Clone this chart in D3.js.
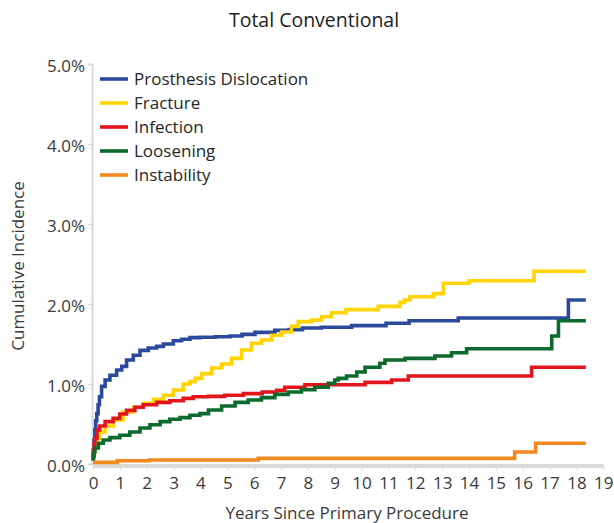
<!DOCTYPE html>
<html><head><meta charset="utf-8">
<script src="https://cdn.jsdelivr.net/npm/d3@7"></script>
<style>
html,body{margin:0;padding:0;background:#fff;}
svg{display:block;font-family:"Open Sans","Noto Sans",sans-serif;}
</style></head>
<body>
<svg id="chart" width="614" height="523"></svg>
<script>
// ---- data ----
const title = "Total Conventional";
const xTitle = "Years Since Primary Procedure";
const yTitle = "Cumulative Incidence";
const xTicks = d3.range(0, 20);
const yTicks = [0, 1, 2, 3, 4, 5];

const seriesNames = ["Prosthesis Dislocation", "Fracture", "Infection", "Loosening", "Instability"];
const seriesColors = ["#2b4a9c", "#ffd400", "#e3151c", "#0d6a2e", "#f28a1f"];

const dislocationYears = [0, 0.01, 0.04, 0.07, 0.1, 0.14, 0.19, 0.24, 0.32, 0.45, 0.63, 0.88, 1.07, 1.25, 1.5, 1.75, 2.06, 2.37, 2.62, 2.99, 3.3, 3.61, 3.98, 4.54, 5.1, 5.55, 6.03, 6.77, 7.3, 7.8, 8.5, 9.63, 10.91, 11.77, 13.6, 17.7, 18.35];
const dislocationPct   = [0.05, 0.13, 0.3, 0.43, 0.54, 0.63, 0.74, 0.84, 0.97, 1.05, 1.11, 1.175, 1.22, 1.30, 1.36, 1.42, 1.45, 1.47, 1.50, 1.54, 1.56, 1.58, 1.585, 1.59, 1.60, 1.62, 1.645, 1.67, 1.68, 1.70, 1.71, 1.73, 1.76, 1.79, 1.825, 2.05, 2.05];

const fractureYears = [0, 0.03, 0.07, 0.14, 0.25, 0.45, 0.75, 1.12, 1.5, 1.87, 2.25, 2.62, 2.99, 3.36, 3.61, 3.8, 4.05, 4.42, 4.79, 5.16, 5.53, 5.9, 6.27, 6.65, 7.02, 7.39, 7.64, 8.14, 8.51, 8.88, 9.42, 10.62, 11.43, 11.6, 11.8, 12.67, 13.04, 14.0, 16.42, 18.35];
const fracturePct   = [0.05, 0.15, 0.24, 0.32, 0.40, 0.475, 0.55, 0.65, 0.71, 0.76, 0.81, 0.86, 0.925, 1.0, 1.03, 1.07, 1.13, 1.20, 1.25, 1.32, 1.425, 1.51, 1.55, 1.61, 1.65, 1.72, 1.78, 1.80, 1.84, 1.89, 1.93, 1.97, 2.02, 2.05, 2.09, 2.13, 2.26, 2.29, 2.41, 2.41];

const infectionYears = [0, 0.01, 0.04, 0.07, 0.15, 0.25, 0.45, 0.75, 1.0, 1.25, 1.56, 1.87, 2.37, 2.86, 3.36, 3.73, 4.3, 4.9, 5.6, 6.3, 6.84, 7.14, 7.89, 10.13, 11.12, 11.74, 16.33, 18.35];
const infectionPct   = [0.09, 0.175, 0.25, 0.32, 0.425, 0.475, 0.53, 0.57, 0.625, 0.67, 0.71, 0.74, 0.77, 0.79, 0.82, 0.84, 0.845, 0.86, 0.88, 0.90, 0.92, 0.96, 0.99, 1.02, 1.05, 1.10, 1.21, 1.21];

const looseningYears = [0, 0.01, 0.04, 0.07, 0.2, 0.38, 0.63, 1.0, 1.37, 1.75, 2.12, 2.5, 2.86, 3.24, 3.61, 3.98, 4.3, 4.79, 5.29, 5.78, 6.27, 6.77, 7.27, 7.76, 8.26, 8.76, 9.0, 9.13, 9.44, 9.82, 10.13, 10.68, 10.87, 11.62, 12.73, 13.35, 13.91, 17.08, 17.33, 18.35];
const looseningPct   = [0.04, 0.09, 0.15, 0.20, 0.26, 0.30, 0.33, 0.36, 0.40, 0.45, 0.49, 0.53, 0.56, 0.58, 0.61, 0.63, 0.675, 0.725, 0.77, 0.80, 0.83, 0.87, 0.90, 0.93, 0.96, 1.01, 1.05, 1.07, 1.10, 1.15, 1.21, 1.26, 1.30, 1.32, 1.35, 1.39, 1.44, 1.60, 1.79, 1.79];

const instabilityYears = [0, 0.9, 2.1, 6.15, 15.7, 16.48, 18.35];
const instabilityPct   = [0.02, 0.04, 0.05, 0.07, 0.15, 0.26, 0.26];

const seriesYears = [dislocationYears, fractureYears, infectionYears, looseningYears, instabilityYears];
const seriesPct = [dislocationPct, fracturePct, infectionPct, looseningPct, instabilityPct];

// ---- layout ----
const svg = d3.select("#chart");
const plotLeft = 93, plotRight = 603.3, plotTop = 64, plotBottom = 464;
const x = d3.scaleLinear().domain([0, 19]).range([plotLeft, plotRight]);
const y = d3.scaleLinear().domain([0, 5]).range([plotBottom, plotTop]);
const textColor = "#3a3a3a";
const axisColor = "#d9d9d9";
const fontSize = 17;

svg.append("text").attr("x", 314).attr("y", 27).attr("text-anchor", "middle")
  .attr("font-size", 19.5).attr("fill", "#222").text(title);

// y axis
const yAxis = svg.append("g").attr("transform", `translate(${plotLeft - 1},0)`)
  .call(d3.axisLeft(y).tickValues(yTicks).tickSize(4).tickPadding(3).tickFormat(d => d.toFixed(1) + "%"));
yAxis.select(".domain").attr("stroke", axisColor).attr("stroke-width", 2);
yAxis.selectAll(".tick line").attr("stroke", axisColor);
yAxis.selectAll(".tick text").attr("font-size", fontSize).attr("fill", textColor).attr("font-family", "Open Sans").attr("dy", "0.45em");

// x axis
const xAxis = svg.append("g").attr("transform", `translate(0,${plotBottom + 1.5})`)
  .call(d3.axisBottom(x).tickValues(xTicks).tickSize(5).tickPadding(6).tickSizeOuter(0));
xAxis.select(".domain").attr("stroke", axisColor).attr("stroke-width", 4);
xAxis.selectAll(".tick line").attr("stroke", axisColor);
xAxis.selectAll(".tick text").attr("font-size", fontSize).attr("fill", textColor).attr("font-family", "Open Sans");

svg.append("text").attr("x", 347).attr("y", 519).attr("text-anchor", "middle")
  .attr("font-size", fontSize).attr("fill", textColor).text(xTitle);
svg.append("text").attr("transform", "translate(24,266) rotate(-90)").attr("text-anchor", "middle")
  .attr("font-size", fontSize).attr("fill", textColor).text(yTitle);

// lines
const line = d3.line().x(d => x(d[0])).y(d => y(d[1])).curve(d3.curveStepAfter);
seriesNames.forEach((name, i) => {
  const pts = seriesYears[i].map((t, j) => [t, seriesPct[i][j]]);
  svg.append("path").datum(pts).attr("d", line).attr("fill", "none")
    .attr("stroke", seriesColors[i]).attr("stroke-width", 3.6).attr("stroke-linejoin", "miter");
});

// legend
const lg = svg.append("g").attr("transform", "translate(100,79)");
seriesNames.forEach((name, i) => {
  const g = lg.append("g").attr("transform", `translate(0,${i * 24})`);
  g.append("line").attr("x1", 0).attr("x2", 28).attr("y1", 0).attr("y2", 0)
    .attr("stroke", seriesColors[i]).attr("stroke-width", 3.6);
  g.append("text").attr("x", 34).attr("y", 0).attr("dy", "0.36em")
    .attr("font-size", fontSize).attr("fill", "#262626").text(name);
});
</script>
</body></html>
